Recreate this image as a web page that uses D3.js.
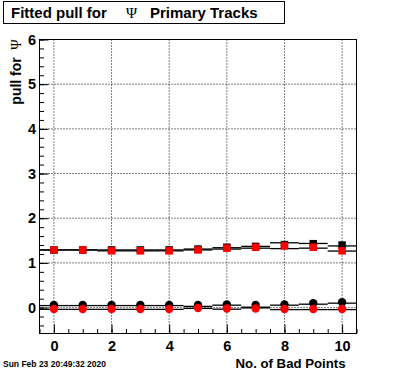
<!DOCTYPE html>
<html><head><meta charset="utf-8">
<script src="https://cdn.jsdelivr.net/npm/d3@7"></script>
<style>body{margin:0;background:#fff}svg{display:block}</style>
</head><body>
<script>
const bins = [0,1,2,3,4,5,6,7,8,9,10];
// upper group (squares)
const upperBlack = [1.29,1.29,1.29,1.29,1.29,1.31,1.35,1.37,1.41,1.43,1.40];
const upperRed   = [1.29,1.29,1.27,1.27,1.27,1.29,1.33,1.35,1.38,1.35,1.27];
const upperBandLo = [1.29,1.29,1.27,1.27,1.27,1.29,1.31,1.33,1.32,1.33,1.265];
const upperBandHi = [1.29,1.29,1.29,1.29,1.29,1.31,1.34,1.37,1.45,1.435,1.38];
// lower group (circles)
const lowerBlack = [0.06,0.06,0.06,0.06,0.06,0.06,0.07,0.06,0.07,0.10,0.12];
const lowerRed   = [-0.03,-0.03,-0.03,-0.03,-0.03,-0.01,-0.02,-0.02,-0.03,-0.03,-0.03];
const lowerBandLo = [-0.04,-0.04,-0.04,-0.04,-0.04,-0.018,-0.036,-0.007,-0.045,-0.045,-0.045];
const lowerBandHi = [0.045,0.045,0.045,0.045,0.045,0.027,0.054,0.009,0.054,0.076,0.099];
const xTicks = [0,2,4,6,8,10];
const yTicks = [0,1,2,3,4,5,6];

const W=396,H=372;
const L=39.5,R=356.5,T=39.5,B=333.5;
const svg=d3.select("body").append("svg").attr("width",W).attr("height",H);
const x=d3.scaleLinear().domain([-0.5,10.5]).range([L,R]);
const y=d3.scaleLinear().domain([-0.58,6]).range([B,T]);

// grid
const g=svg.append("g");
g.selectAll(".gx").data(xTicks).enter().append("line")
 .attr("x1",d=>x(d)).attr("x2",d=>x(d)).attr("y1",T).attr("y2",B)
 .attr("stroke","#000").attr("stroke-dasharray","1,2").attr("stroke-width",1);
g.selectAll(".gy").data(yTicks).enter().append("line")
 .attr("x1",L).attr("x2",R).attr("y1",d=>y(d)).attr("y2",d=>y(d))
 .attr("stroke","#000").attr("stroke-dasharray","1,2").attr("stroke-width",1);

// bands
function band(lo,hi){
  const bg=svg.append("g").attr("stroke","#000").attr("stroke-width",1.3);
  bins.forEach((b,i)=>{
    [lo[i],hi[i]].forEach(v=>{
      bg.append("line").attr("x1",x(b-0.5)).attr("x2",x(b+0.5))
        .attr("y1",y(v)).attr("y2",y(v));
    });
  });
}
band(upperBandLo,upperBandHi);
band(lowerBandLo,lowerBandHi);

// markers
const sq=7.5, cr=4.2;
function squares(vals,col){
  svg.append("g").selectAll("rect").data(vals).enter().append("rect")
   .attr("x",(d,i)=>x(bins[i])-sq/2).attr("y",d=>y(d)-sq/2)
   .attr("width",sq).attr("height",sq).attr("fill",col);
}
function circles(vals,col){
  svg.append("g").selectAll("circle").data(vals).enter().append("circle")
   .attr("cx",(d,i)=>x(bins[i])).attr("cy",d=>y(d)).attr("r",cr).attr("fill",col);
}
squares(upperBlack,"#000");
circles(lowerBlack,"#000");
squares(upperRed,"#ff0000");
circles(lowerRed,"#ff0000");

// frame
svg.append("rect").attr("x",L).attr("y",T).attr("width",R-L).attr("height",B-T)
 .attr("fill","none").attr("stroke","#000").attr("stroke-width",1);

// axes
const font="'Liberation Sans', Arial, Helvetica, sans-serif";
const xMaj=d3.axisBottom(x).tickValues(xTicks).tickSize(-9).tickPadding(7).tickFormat(d3.format("d"));
const xMin=d3.axisBottom(x).tickValues(d3.range(-0.5,10.51,0.5)).tickSize(-4.5).tickFormat("");
const ax=svg.append("g").attr("transform",`translate(0,${B})`).call(xMaj);
svg.append("g").attr("transform",`translate(0,${B})`).call(xMin);
const yMaj=d3.axisLeft(y).tickValues(yTicks).tickSize(-9).tickPadding(4).tickFormat(d3.format("d"));
const yMinVals=d3.range(-28,301,1).map(v=>v/50).filter(v=>v>=-0.58 && Math.abs(v*5-Math.round(v*5))<1e-6);
const yMin=d3.axisLeft(y).tickValues(yMinVals).tickSize(-4.5).tickFormat("");
const ay=svg.append("g").attr("transform",`translate(${L},0)`).call(yMaj);
svg.append("g").attr("transform",`translate(${L},0)`).call(yMin);
svg.selectAll(".domain").remove();
svg.selectAll(".tick line").attr("stroke","#000");
[ax,ay].forEach(a=>a.selectAll("text").attr("font-family",font).attr("font-weight","bold")
  .attr("font-size",14.5).attr("fill","#000"));
ay.selectAll("text").attr("x",-3.5);

// axis titles
svg.append("text").attr("x",R-11).attr("y",368).attr("text-anchor","end")
 .attr("font-family",font).attr("font-weight","bold").attr("font-size",13.2).text("No. of Bad Points");
const yt=svg.append("text").attr("transform",`translate(21,${T}) rotate(-90)`).attr("text-anchor","end")
 .attr("font-family",font).attr("font-weight","bold").attr("font-size",14);
yt.append("tspan").text("pull for ");
yt.append("tspan").attr("font-family","'Liberation Serif','DejaVu Serif',serif").attr("font-weight","normal").attr("font-size",14).text("\u00a0Ψ");

// title
svg.append("rect").attr("x",3.5).attr("y",1.5).attr("width",281).attr("height",22)
 .attr("fill","#fff").attr("stroke","#000").attr("stroke-width",1);
const tt=svg.append("text").attr("x",11).attr("y",18).attr("font-family",font)
 .attr("font-weight","bold").attr("font-size",15);
tt.append("tspan").text("Fitted pull for");
tt.append("tspan").attr("x",126).attr("font-family","'Liberation Serif','DejaVu Serif',serif")
 .attr("font-weight","normal").attr("font-size",15).text("Ψ");
tt.append("tspan").attr("x",150).text("Primary Tracks");

// date
svg.append("text").attr("x",3).attr("y",367).attr("font-family",font).attr("font-weight","bold")
 .attr("font-size",8.5).text("Sun Feb 23 20:49:32 2020");
</script>
</body></html>
